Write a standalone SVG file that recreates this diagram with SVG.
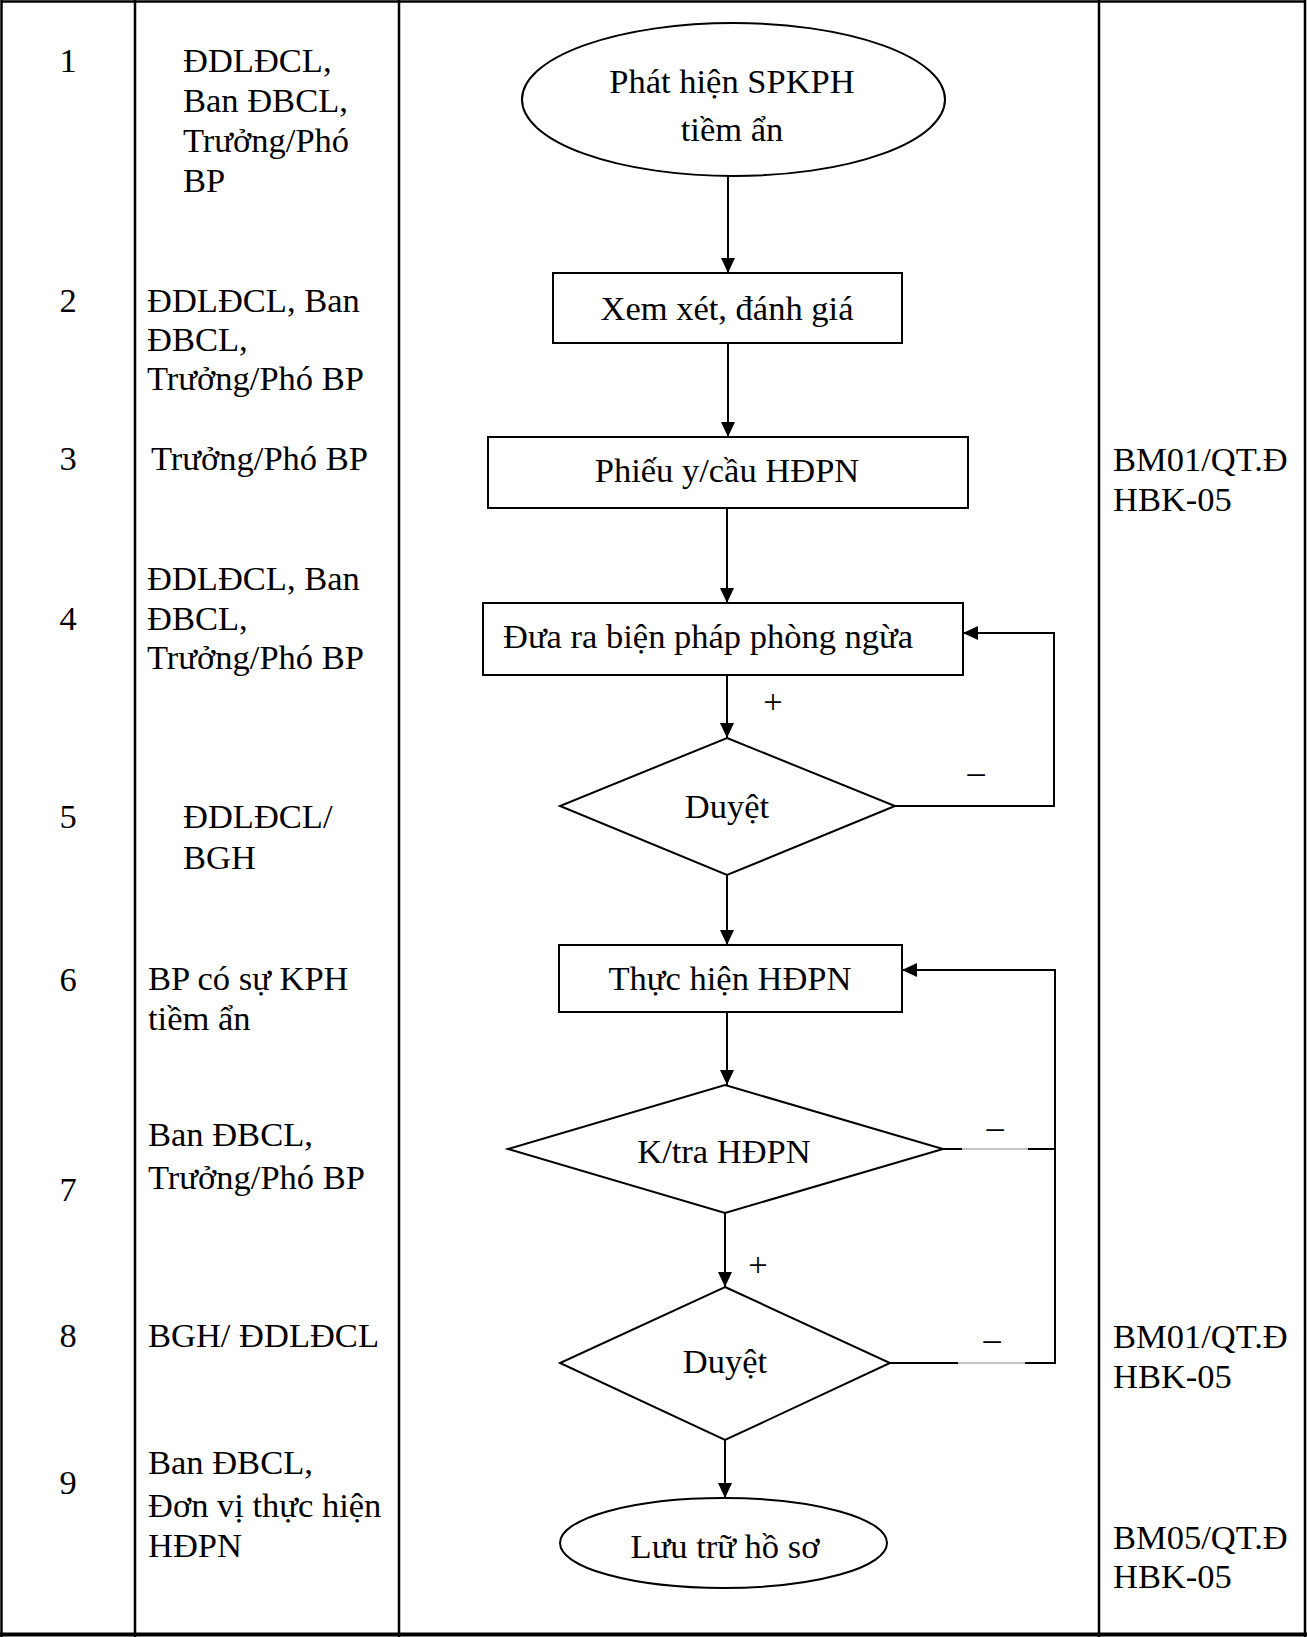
<svg xmlns="http://www.w3.org/2000/svg" width="1307" height="1637" viewBox="0 0 1307 1637">
<style>
text{font-family:"Liberation Serif","Times New Roman",serif;font-size:34.5px;fill:#000}
.c{text-anchor:middle}
.grid{stroke:#000;stroke-width:2.5;fill:none}
.shape{stroke:#000;stroke-width:2;fill:#fff}
.conn{stroke:#000;stroke-width:2;fill:none}
.thin{stroke:#888;stroke-width:1;fill:none}
</style>
<defs>
<marker id="arr" viewBox="0 0 15 14" refX="15" refY="7" markerWidth="15" markerHeight="14" markerUnits="userSpaceOnUse" orient="auto">
<path d="M0,0 L15,7 L0,14 z" fill="#000"/>
</marker>
</defs>
<rect width="1307" height="1637" fill="#fff"/>
<g id="table">
<line class="grid" x1="1.5" y1="1.5" x2="1305" y2="1.5"/>
<line class="grid" x1="1.5" y1="0" x2="1.5" y2="1637"/>
<line class="grid" x1="1305" y1="0" x2="1305" y2="1637"/>
<line x1="0" y1="1634.5" x2="1307" y2="1634.5" stroke="#000" stroke-width="4"/>
<line class="grid" x1="135" y1="0" x2="135" y2="1637"/>
<line class="grid" x1="399" y1="0" x2="399" y2="1637"/>
<line class="grid" x1="1099" y1="0" x2="1099" y2="1637"/>
</g>
<g id="col-numbers">
<text class="c" x="68" y="72">1</text>
<text class="c" x="68" y="312">2</text>
<text class="c" x="68" y="470">3</text>
<text class="c" x="68" y="630">4</text>
<text class="c" x="68" y="828">5</text>
<text class="c" x="68" y="991">6</text>
<text class="c" x="68" y="1201">7</text>
<text class="c" x="68" y="1347">8</text>
<text class="c" x="68" y="1494">9</text>
</g>
<g id="col-responsible">
<text x="183" y="72">ĐDLĐCL,</text>
<text x="183" y="112">Ban ĐBCL,</text>
<text x="183" y="152">Trưởng/Phó</text>
<text x="183" y="192">BP</text>
<text x="147" y="312">ĐDLĐCL, Ban</text>
<text x="147" y="351">ĐBCL,</text>
<text x="147" y="390">Trưởng/Phó BP</text>
<text x="151" y="470">Trưởng/Phó BP</text>
<text x="147" y="590">ĐDLĐCL, Ban</text>
<text x="147" y="630">ĐBCL,</text>
<text x="147" y="669">Trưởng/Phó BP</text>
<text x="183" y="828">ĐDLĐCL/</text>
<text x="183" y="869">BGH</text>
<text x="148" y="990">BP có sự KPH</text>
<text x="148" y="1030">tiềm ẩn</text>
<text x="148" y="1146">Ban ĐBCL,</text>
<text x="148" y="1189">Trưởng/Phó BP</text>
<text x="148" y="1347">BGH/ ĐDLĐCL</text>
<text x="148" y="1474">Ban ĐBCL,</text>
<text x="148" y="1517">Đơn vị thực hiện</text>
<text x="148" y="1557">HĐPN</text>
</g>
<g id="col-forms">
<text x="1113" y="471">BM01/QT.Đ</text>
<text x="1113" y="511">HBK-05</text>
<text x="1113" y="1348">BM01/QT.Đ</text>
<text x="1113" y="1388">HBK-05</text>
<text x="1113" y="1549">BM05/QT.Đ</text>
<text x="1113" y="1588">HBK-05</text>
</g>
<g id="connectors">
<line class="conn" x1="728" y1="176" x2="728" y2="273" marker-end="url(#arr)"/>
<line class="conn" x1="728" y1="343" x2="728" y2="437" marker-end="url(#arr)"/>
<line class="conn" x1="727" y1="508" x2="727" y2="603" marker-end="url(#arr)"/>
<line class="conn" x1="727" y1="675" x2="727" y2="738" marker-end="url(#arr)"/>
<path class="conn" d="M895,806 H1054 V633 H963" marker-end="url(#arr)"/>
<line class="conn" x1="727" y1="875" x2="727" y2="945" marker-end="url(#arr)"/>
<line class="conn" x1="727" y1="1012" x2="727" y2="1085" marker-end="url(#arr)"/>
<line class="conn" x1="725" y1="1213" x2="725" y2="1287" marker-end="url(#arr)"/>
<line class="conn" x1="943" y1="1149" x2="962" y2="1149"/>
<line class="thin" x1="962" y1="1149" x2="1028" y2="1149"/>
<line class="conn" x1="1028" y1="1149" x2="1055" y2="1149"/>
<line class="conn" x1="890" y1="1363" x2="958" y2="1363"/>
<line class="thin" x1="958" y1="1363" x2="1025" y2="1363"/>
<path class="conn" d="M1025,1363 H1055 V970 H902" marker-end="url(#arr)"/>
<line class="conn" x1="725" y1="1440" x2="725" y2="1498" marker-end="url(#arr)"/>
<text class="c" x="773" y="713">+</text>
<text class="c" x="976" y="783">–</text>
<text class="c" x="995" y="1138">–</text>
<text class="c" x="758" y="1276">+</text>
<text class="c" x="992" y="1350">–</text>
</g>
<g id="n1">
<ellipse class="shape" cx="733.5" cy="99.5" rx="211.5" ry="76.5"/>
<text class="c" x="732" y="93">Phát hiện SPKPH</text>
<text class="c" x="732" y="141">tiềm ẩn</text>
</g>
<g id="n2">
<rect class="shape" x="553" y="273" width="349" height="70"/>
<text class="c" x="727" y="320">Xem xét, đánh giá</text>
</g>
<g id="n3">
<rect class="shape" x="488" y="437" width="480" height="71"/>
<text class="c" x="727" y="482">Phiếu y/cầu HĐPN</text>
</g>
<g id="n4">
<rect class="shape" x="483" y="603" width="480" height="72"/>
<text x="503" y="648">Đưa ra biện pháp phòng ngừa</text>
</g>
<g id="n5">
<polygon class="shape" points="727,738 895,806 727,875 560,806"/>
<text class="c" x="727" y="818">Duyệt</text>
</g>
<g id="n6">
<rect class="shape" x="559" y="945" width="343" height="67"/>
<text class="c" x="730" y="990">Thực hiện HĐPN</text>
</g>
<g id="n7">
<polygon class="shape" points="725,1085 943,1149 725,1213 508,1149"/>
<text class="c" x="724" y="1163">K/tra HĐPN</text>
</g>
<g id="n8">
<polygon class="shape" points="725,1287 890,1363 725,1440 560,1363"/>
<text class="c" x="725" y="1373">Duyệt</text>
</g>
<g id="n9">
<ellipse class="shape" cx="723.5" cy="1543" rx="163.5" ry="45"/>
<text class="c" x="725" y="1558">Lưu trữ hồ sơ</text>
</g>
</svg>
